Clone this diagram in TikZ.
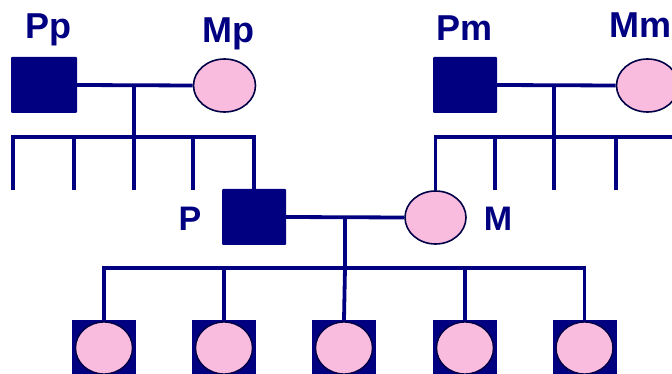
\documentclass[tikz,border=0pt]{standalone}
\usepackage{fontspec}
\setmainfont{Liberation Sans}
\usetikzlibrary{shapes.geometric}
\definecolor{navy}{RGB}{0,0,128}
\definecolor{pinkf}{RGB}{250,188,222}
\definecolor{darkline}{RGB}{0,0,70}
\begin{document}
\begin{tikzpicture}[x=1pt,y=-1pt,
  male/.style={rectangle,fill=navy,minimum width=64pt,minimum height=56pt,inner sep=0pt,rounded corners=1pt},
  female/.style={ellipse,fill=pinkf,draw=darkline,line width=1.6pt,minimum width=61pt,minimum height=53pt,inner sep=0pt},
  childsq/.style={rectangle,fill=navy,minimum width=64pt,minimum height=56pt,inner sep=0pt},
  childci/.style={ellipse,fill=pinkf,draw=darkline,line width=1.4pt,minimum width=57pt,minimum height=52pt,inner sep=0pt},
  rel/.style={draw=navy,line width=3.8pt,line join=miter},
  lbl/.style={text=navy,font=\bfseries\fontsize{36}{36}\selectfont,inner sep=0pt,anchor=base},
  lbls/.style={text=navy,font=\bfseries\fontsize{34}{34}\selectfont,inner sep=0pt,anchor=base}]
\useasboundingbox (0,0) rectangle (672,374);
% grandparents
\node[male,minimum width=66pt] (Pp) at (44,85) {};
\node[female,minimum width=62pt] (Mp) at (224.5,85.5) {};
\node[male] (Pm) at (465,85) {};
\node[female,minimum width=62pt] (Mm) at (647.5,85.5) {};
% parents
\node[male] (P) at (254,217) {};
\node[female] (M) at (435.5,217.5) {};
% children
\foreach \i/\x in {1/104,2/224,3/344,4/465,5/584.5}{
  \node[childsq] (c\i) at (\x,348) {};
  \node[childci] (ci\i) at (c\i) {};
}
% labels
\node[lbl] (lPp) at (48.5,39) {Pp};
\node[lbl] (lMp) at (228,43) {Mp};
\node[lbl] (lPm) at (464.5,41) {Pm};
\node[lbl,anchor=base west] (lMm) at (609.5,38) {Mm};
\node[lbls] (lP) at (190,231) {P};
\node[lbls] (lM) at (498,231) {M};
% left grandparents
\coordinate (a) at (134,85);
\coordinate (ab) at (134,137);
\coordinate (s1) at (13,190);
\coordinate (s2) at (74,190);
\coordinate (s3) at (134,190);
\coordinate (s4) at (193,190);
\path[rel] (Pp.east) -- (Mp.west);
\path[rel] (a) -- (ab);
\path[rel] (s1) |- (P.north |- ab) -- (P.north);
\path[rel] (s2) -- (s2 |- ab);
\path[rel] (ab) -- (s3);
\path[rel] (s4) -- (s4 |- ab);
% right grandparents
\coordinate (b) at (554,85);
\coordinate (bb) at (554,137);
\coordinate (t2) at (495,190);
\coordinate (t3) at (554,190);
\coordinate (t4) at (616,190);
\coordinate (tend) at (674,137);
\path[rel] (Pm.east) -- (Mm.west);
\path[rel] (b) -- (bb);
\path[rel] (M.north) |- (tend);
\path[rel] (t2) -- (t2 |- bb);
\path[rel] (bb) -- (t3);
\path[rel] (t4) -- (t4 |- bb);
% parents and children
\coordinate (m) at (345,217);
\coordinate (mb) at (345,268);
\path[rel] (P.east) -- (M.west);
\path[rel] (m) -- (mb);
\path[rel] (c1.north) |- (mb) -| (c5.north);
\path[rel] (c2.north) -- (c2.north |- mb);
\path[rel] (mb) -- (c3.north);
\path[rel] (c4.north) -- (c4.north |- mb);
\end{tikzpicture}
\end{document}
